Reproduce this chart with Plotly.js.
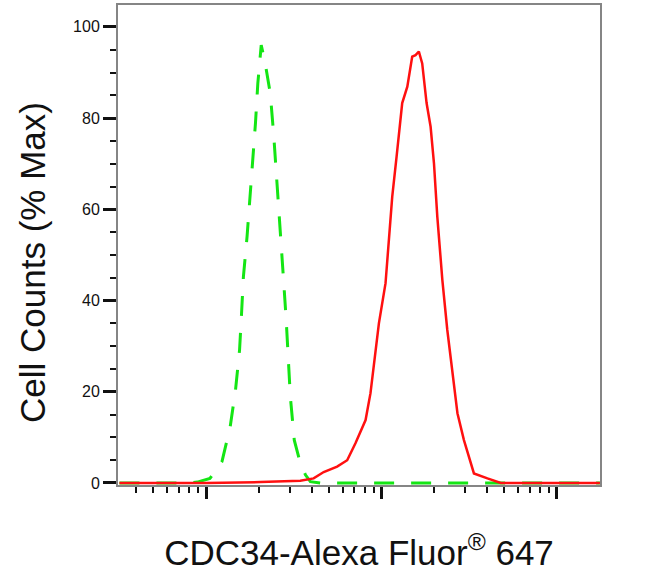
<!DOCTYPE html>
<html>
<head>
<meta charset="utf-8">
<script src="https://cdn.plot.ly/plotly-3.0.1.min.js"></script>
<style>
  html, body { margin: 0; padding: 0; background: #fff; }
  #chart { width: 654px; height: 583px; }
</style>
</head>
<body>
<div id="chart"></div>
<script>
// isotype control (green, dashed) - fluorescence intensity vs % of max
const controlX = [32, 79, 89, 105, 123, 137, 147, 155, 159, 163, 171, 178, 185, 191, 197, 206,
                  217, 232, 243, 251, 259, 267, 277, 286, 293, 302, 318, 344, 368, 393, 447, 1000, 3000, 10000, 17600];
const controlY = [0, 0, 0.2, 1.0, 4.7, 12.3, 20.4, 29.2, 37, 45.2, 54, 62.8, 70.8, 78.9, 87.6, 96,
                  92, 85.4, 76, 68.6, 59.9, 52.6, 43.8, 35.7, 27.7, 18.9, 9.4, 4.4, 1.8, 0.3, 0, 0, 0, 0, 0];

// CDC34 stained sample (red, solid)
const sampleX = [32, 100, 204, 290, 344, 410, 468, 558, 637, 710, 811, 865, 904, 966, 1054, 1102,
                 1151, 1219, 1312, 1403, 1496, 1563, 1633, 1706, 1807, 1905, 1991, 2080, 2223, 2371,
                 2535, 2710, 2951, 3365, 4018, 4786, 10000, 17600];
const sampleY = [0, 0, 0.2, 0.4, 0.5, 1.0, 2.4, 3.6, 5.0, 8.7, 13.8, 19.7, 26.2, 35.0, 43.8, 52.6,
                 62.8, 71.6, 83.3, 86.9, 93.5, 93.8, 94.6, 92.0, 83.3, 78.1, 70.1, 58.4, 44.5, 33.6,
                 24.8, 15.3, 9.4, 2.1, 1.0, 0, 0, 0];

const decades = [100, 1000, 10000];
const yTicks = [0, 20, 40, 60, 80, 100];

// minor log ticks 2..9 in every decade
let minorX = [];
[10, 100, 1000, 10000].forEach(d => {
    for (let k = 2; k <= 9; k++) minorX.push(d * k);
});

const traces = [
    {
        x: controlX,
        y: controlY,
        type: 'scatter',
        mode: 'lines',
        line: { color: '#14e614', width: 3, dash: '20px,17px' },
        name: 'Isotype control'
    },
    {
        x: sampleX,
        y: sampleY,
        type: 'scatter',
        mode: 'lines',
        line: { color: '#ff1010', width: 2.5 },
        name: 'CDC34'
    }
];

const layout = {
    width: 654,
    height: 583,
    margin: { l: 118, r: 54, t: 5, b: 98 },
    paper_bgcolor: '#ffffff',
    plot_bgcolor: '#ffffff',
    showlegend: false,
    font: { family: 'Liberation Sans, Arial, sans-serif', color: '#111' },
    xaxis: {
        type: 'log',
        range: [1.497, 4.246],
        showgrid: false,
        zeroline: false,
        showline: true,
        mirror: true,
        linecolor: '#858585',
        linewidth: 2,
        ticks: 'outside',
        tickvals: decades,
        ticklen: 12,
        tickwidth: 3,
        tickcolor: '#111',
        showticklabels: false,
        minor: { tickvals: minorX, ticks: 'outside', ticklen: 6, tickwidth: 2, tickcolor: '#111' },
        title: {
            text: 'CDC34-Alexa Fluor<sup>®</sup> 647',
            font: { size: 35, color: '#111' },
            standoff: 42
        }
    },
    yaxis: {
        range: [-0.44, 104.8],
        showgrid: false,
        zeroline: false,
        showline: true,
        mirror: true,
        linecolor: '#858585',
        linewidth: 2,
        ticks: 'outside',
        tickvals: yTicks,
        ticklen: 13,
        tickwidth: 3,
        tickcolor: '#111',
        tickfont: { size: 16, color: '#111' },
        minor: { dtick: 5, ticks: 'outside', ticklen: 6, tickwidth: 2, tickcolor: '#111' }
    },
    annotations: [{
        text: 'Cell Counts (% Max)',
        xref: 'paper', yref: 'paper',
        x: 0, y: 0.5,
        xanchor: 'center', yanchor: 'middle',
        xshift: -86, yshift: -18,
        textangle: -90,
        showarrow: false,
        font: { size: 35, color: '#111' }
    }]
};

Plotly.newPlot('chart', traces, layout, { displayModeBar: false, staticPlot: true });
</script>
</body>
</html>
